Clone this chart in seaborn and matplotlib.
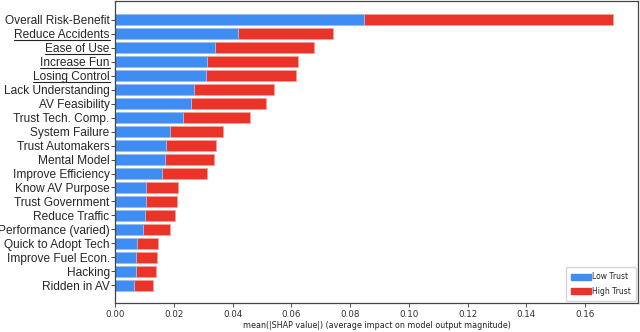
import seaborn as sns
import matplotlib.pyplot as plt
import pandas as pd
from matplotlib.patches import Patch
from matplotlib.lines import Line2D

sns.set_style("ticks")

features = ["Overall Risk-Benefit", "Reduce Accidents", "Ease of Use", "Increase Fun",
            "Losing Control", "Lack Understanding", "AV Feasibility", "Trust Tech. Comp.",
            "System Failure", "Trust Automakers", "Mental Model", "Improve Efficiency",
            "Know AV Purpose", "Trust Government", "Reduce Traffic", "Performance (varied)",
            "Quick to Adopt Tech", "Improve Fuel Econ.", "Hacking", "Ridden in AV"]
low_trust = [0.0848, 0.0419, 0.0341, 0.0313, 0.0309, 0.0269, 0.0258, 0.0231, 0.0185, 0.0174,
             0.0169, 0.0158, 0.0106, 0.0106, 0.0103, 0.0095, 0.0074, 0.0070, 0.0070, 0.0065]
high_trust = [0.0845, 0.0324, 0.0337, 0.0310, 0.0308, 0.0270, 0.0255, 0.0229, 0.0182, 0.0169,
              0.0168, 0.0155, 0.0108, 0.0104, 0.0101, 0.0092, 0.0071, 0.0071, 0.0070, 0.0064]
underlined = ["Reduce Accidents", "Ease of Use", "Increase Fun", "Losing Control"]

df = pd.DataFrame({"feature": features, "low": low_trust, "high": high_trust})
df["total"] = df["low"] + df["high"]

blue = "#3f8cf2"
red = "#ea3429"

fig = plt.figure(figsize=(6.4, 3.32), dpi=100)
ax = fig.add_axes([0.18, 0.086, 0.817, 0.911])

sns.barplot(data=df, x="total", y="feature", color=red, orient="h", width=0.78,
            saturation=1, edgecolor="#f4a09a", linewidth=0.6, ax=ax)
sns.barplot(data=df, x="low", y="feature", color=blue, orient="h", width=0.78,
            saturation=1, edgecolor="#a0c4f8", linewidth=0.6, ax=ax)

ax.set_xlim(0, 0.178)
ax.set_ylim(len(features) - 1 + 1.3, -1.35)
ax.set_xticks([0, 0.02, 0.04, 0.06, 0.08, 0.10, 0.12, 0.14, 0.16])
ax.set_xticklabels(["0.00", "0.02", "0.04", "0.06", "0.08", "0.10", "0.12", "0.14", "0.16"])
ax.set_xlabel("mean(|SHAP value|) (average impact on model output magnitude)", fontsize=5.8,
              labelpad=1.5, color="#222222")
ax.set_ylabel("")
ax.tick_params(axis="x", labelsize=6.3, length=3, width=0.6, pad=2, colors="#333333")
ax.tick_params(axis="y", length=3, width=0.6, pad=1)
for lab in ax.get_yticklabels():
    lab.set_fontfamily("Liberation Sans")
    lab.set_fontsize(8.6)
for s in ax.spines.values():
    s.set_color("#444444")
    s.set_linewidth(0.9)

handles = [Patch(color=blue, label="Low Trust"), Patch(color=red, label="High Trust")]
ax.legend(handles=handles, loc="lower right", fontsize=5.5, handlelength=2.6,
          handleheight=0.8, handletextpad=0.1, labelspacing=0.7, borderpad=0.7,
          borderaxespad=0.3)

# underline the highlighted features
fig.canvas.draw()
renderer = fig.canvas.get_renderer()
inv = fig.transFigure.inverted()
for lab in ax.get_yticklabels():
    if lab.get_text() in underlined:
        bb = lab.get_window_extent(renderer)
        (x0, y0), (x1, y1) = inv.transform([(bb.x0, bb.y0 + 1), (bb.x1, bb.y0 + 1)])
        fig.add_artist(Line2D([x0, x1], [y0, y1], color="#222222", linewidth=0.8))

fig.savefig("out.png", dpi=100)
